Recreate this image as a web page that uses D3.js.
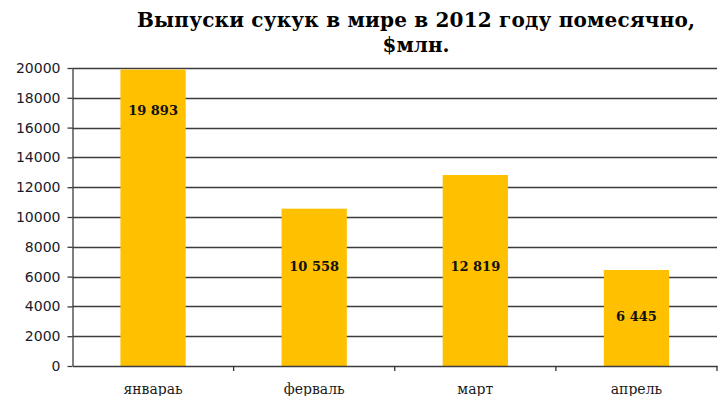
<!DOCTYPE html>
<html>
<head>
<meta charset="utf-8">
<script src="https://cdn.jsdelivr.net/npm/d3@7"></script>
<style>
  body { margin: 0; background: #fff; }
</style>
</head>
<body>
<div id="chart"></div>
<script>
const months = ["январаь", "ферваль", "март", "апрель"];
const issues = [19893, 10558, 12819, 6445];
const labelText = ["19 893", "10 558", "12 819", "6 445"];
// where Excel left each data label, in value units
const labelAt = [17150, 6700, 6700, 3330];
const yTicks = [0, 2000, 4000, 6000, 8000, 10000, 12000, 14000, 16000, 18000, 20000];

const width = 718,
      height = 396,
      margin = ({ top: 68, right: 1, bottom: 30, left: 72.5 });

let svg = d3.select("#chart")
    .append("svg")
    .attr("width", width)
    .attr("height", height);

let x = d3.scaleBand()
    .domain(months)
    .range([margin.left, width - margin.right])
    .paddingInner(0)
    .paddingOuter(0);

let y = d3.scaleLinear()
    .domain([0, 20000])
    .range([height - margin.bottom, margin.top]);

// gridlines
svg.append("g")
    .selectAll("line")
    .data(yTicks.slice(1))
    .join("line")
    .attr("x1", margin.left)
    .attr("x2", width - margin.right)
    .attr("y1", d => Math.round(y(d)) + 0.5)
    .attr("y2", d => Math.round(y(d)) + 0.5)
    .attr("stroke", "#3c3c3c")
    .attr("stroke-width", 1.3);

let bar = svg.selectAll(".bar")
    .data(issues)
    .join("g")
    .attr("class", "bar");

const bw = x.bandwidth() * 0.405;

bar.append("rect")
    .attr("fill", "#ffc000")
    .attr("x", (d, i) => x(months[i]) + (x.bandwidth() - bw) / 2)
    .attr("width", bw)
    .attr("y", d => y(d))
    .attr("height", d => y(0) - y(d));

bar.append("text")
    .text((d, i) => labelText[i])
    .attr("x", (d, i) => x(months[i]) + x.bandwidth() / 2)
    .attr("y", (d, i) => y(labelAt[i]) + 5)
    .attr("text-anchor", "middle")
    .style("font-family", "DejaVu Serif")
    .style("font-weight", "bold")
    .style("font-size", "13px")
    .style("fill", "#111");

// y axis
let yAxis = svg.append("g")
    .attr("transform", `translate(${margin.left},0)`)
    .call(d3.axisLeft(y).tickValues(yTicks).tickSize(5).tickSizeOuter(0).tickFormat(d3.format("d")));
yAxis.select(".domain").attr("stroke", "#3c3c3c").attr("stroke-width", 1.3);
yAxis.selectAll(".tick line").attr("stroke", "#3c3c3c").attr("stroke-width", 1.3);
yAxis.selectAll("text")
    .attr("x", -12)
    .style("font-family", "DejaVu Sans")
    .style("font-size", "14px")
    .style("fill", "#1a1a2a");

// x axis
let xAxis = svg.append("g")
    .attr("transform", `translate(0,${y(0)})`)
    .call(d3.axisBottom(x).tickSize(0).tickSizeOuter(0));
xAxis.select(".domain").attr("stroke", "#3c3c3c").attr("stroke-width", 1.3);
xAxis.selectAll("text")
    .attr("y", 18)
    .style("font-family", "DejaVu Serif")
    .style("font-size", "14px")
    .style("fill", "#1a1a1a");

// category separators
svg.append("g")
    .selectAll("line")
    .data(months.slice(1).concat(["end"]))
    .join("line")
    .attr("x1", (d, i) => i < months.length - 1 ? x(d) : width - margin.right)
    .attr("x2", (d, i) => i < months.length - 1 ? x(d) : width - margin.right)
    .attr("y1", y(0))
    .attr("y2", y(0) + 5)
    .attr("stroke", "#333")
    .attr("stroke-width", 1.3);

svg.append("text")
    .attr("text-anchor", "middle")
    .attr("x", 416)
    .attr("y", 27)
    .style("font-family", "DejaVu Serif")
    .style("font-weight", "bold")
    .style("font-size", "20px")
    .attr("textLength", 558)
    .attr("lengthAdjust", "spacing")
    .text("Выпуски сукук в мире в 2012 году помесячно,");

svg.append("text")
    .attr("text-anchor", "middle")
    .attr("x", 416)
    .attr("y", 52)
    .style("font-family", "DejaVu Serif")
    .style("font-weight", "bold")
    .style("font-size", "20px")
    .text("$млн.");
</script>
</body>
</html>
